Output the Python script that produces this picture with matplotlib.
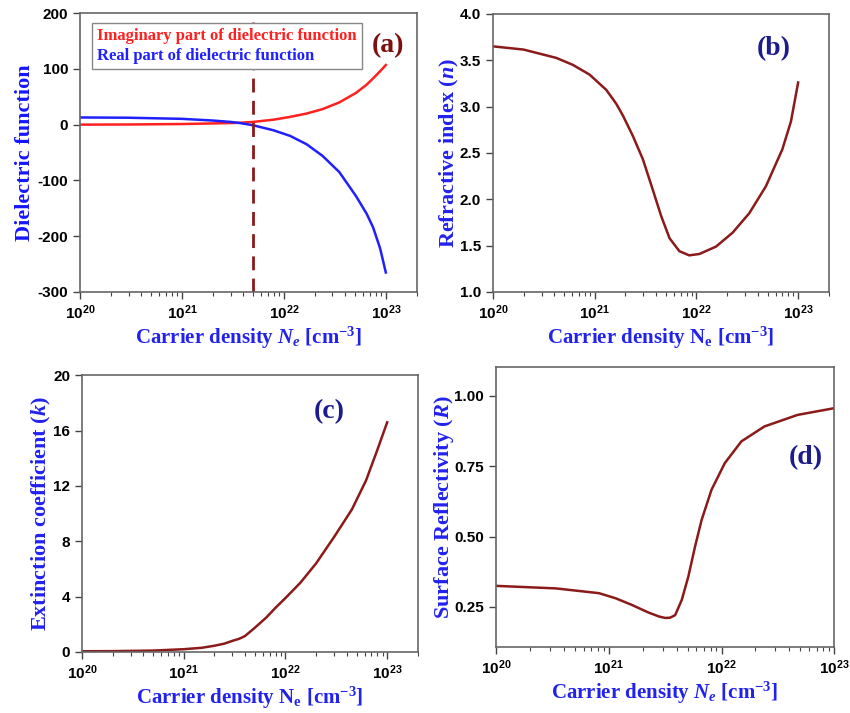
import math

import matplotlib
matplotlib.use("Agg")
import matplotlib.pyplot as plt
from matplotlib.ticker import FixedLocator, FuncFormatter, LogLocator, NullFormatter

plt.rcParams["mathtext.fontset"] = "custom"
plt.rcParams["mathtext.rm"] = "Liberation Serif:bold"
plt.rcParams["mathtext.it"] = "Liberation Serif:italic:bold"
plt.rcParams["mathtext.sf"] = "Liberation Sans:bold"

# (a) dielectric function
ne_a = [1e20, 3e20, 1e21, 2e21, 3e21, 3.7e21, 5e21, 7.9e21, 1.15e22, 1.67e22,
        2.4e22, 3.5e22, 5.1e22, 6.5e22, 7.5e22, 8.8e22, 1e23]
eps_imag = [0.1, 0.4, 1.2, 2.3, 3.0, 3.5, 5, 9, 14, 20,
            28, 40, 57, 72, 83, 96, 107]
eps_real = [13, 12.5, 10.5, 7.5, 5, 3, -1, -10, -20, -35,
            -56, -85, -128, -160, -184, -222, -265]
ne_cross = 5e21

# (b) refractive index
ne_b = [1e20, 2e20, 4.2e20, 6.1e20, 8.9e20, 1.3e21, 1.63e21, 1.9e21, 2.38e21, 2.98e21,
        3.73e21, 4.5e21, 5.44e21, 6.8e21, 8.5e21, 1.07e22, 1.56e22, 2.27e22,
        3.31e22, 4.82e22, 7.0e22, 8.5e22, 1e23]
n_vals = [3.65, 3.615, 3.525, 3.45, 3.345, 3.18, 3.03, 2.90, 2.68, 2.43,
          2.10, 1.82, 1.58, 1.44, 1.395, 1.41, 1.49, 1.64,
          1.85, 2.14, 2.54, 2.84, 3.26]

# (c) extinction coefficient
ne_c = [1e20, 2e20, 5e20, 1e21, 1.5e21, 2e21, 2.5e21, 3e21, 3.5e21, 4e21,
        5e21, 6.5e21, 8e21, 1e22, 1.4e22, 2e22, 3e22, 4.5e22, 6.2e22, 8e22, 1e23]
k_vals = [0.05, 0.06, 0.1, 0.2, 0.3, 0.45, 0.6, 0.8, 0.95, 1.15,
          1.75, 2.5, 3.2, 3.9, 5.0, 6.4, 8.3, 10.3, 12.4, 14.6, 16.6]

# (d) surface reflectivity
ne_d = [1e20, 3.4e20, 8.2e20, 1.15e21, 1.61e21, 2.26e21, 2.8e21, 3.17e21, 3.5e21,
        3.88e21, 4.44e21, 5.08e21, 5.82e21, 6.66e21, 8.15e21, 1.07e22, 1.5e22,
        2.4e22, 4.72e22, 1e23]
r_vals = [0.325, 0.316, 0.299, 0.281, 0.257, 0.23, 0.216, 0.211, 0.212,
          0.221, 0.275, 0.358, 0.464, 0.559, 0.666, 0.761, 0.838,
          0.891, 0.932, 0.956]

DARKRED = "#8b1a1a"
NAVY = "#1c1c8c"
LABEL_BLUE = "#2222ee"


def sup_fmt(x, pos):
    return r"$\mathsf{10^{%d}}$" % int(round(math.log10(x)))


def style(ax, xmax, yticks, ylim, yfmt):
    ax.set_xscale("log")
    ax.set_xlim(1e20, xmax)
    ax.set_ylim(*ylim)
    ax.xaxis.set_major_locator(FixedLocator([1e20, 1e21, 1e22, 1e23]))
    ax.xaxis.set_major_formatter(FuncFormatter(sup_fmt))
    ax.xaxis.set_minor_locator(LogLocator(base=10, subs=range(2, 10)))
    ax.xaxis.set_minor_formatter(NullFormatter())
    ax.set_yticks(yticks)
    ax.yaxis.set_major_formatter(FuncFormatter(lambda v, p: yfmt.format(v)))
    ax.tick_params(which="both", direction="out", top=False, right=False,
                   labelsize=11, color="#444444")
    ax.tick_params(which="major", length=5, width=1)
    ax.tick_params(which="minor", length=3, width=0.8)
    for lab in ax.get_yticklabels():
        lab.set_fontweight("bold")
        lab.set_family("Liberation Sans")
    for side in ax.spines:
        ax.spines[side].set_color("#666666")
        ax.spines[side].set_linewidth(1.2)


def labels(ax, ylab, xlab, ycolor=LABEL_BLUE, ypad=2):
    ax.set_ylabel(ylab, color=ycolor, family="Liberation Serif",
                  weight="bold", size=16, labelpad=ypad)
    ax.set_xlabel(xlab, color=LABEL_BLUE, family="Liberation Serif",
                  weight="bold", size=15, labelpad=2)


def tag(ax, s, x, y, color):
    ax.text(x, y, s, transform=ax.transAxes, color=color, family="Liberation Serif",
            weight="bold", size=20, ha="center", va="center")


fig = plt.figure(figsize=(8.5, 7.13), dpi=100)

# (a)
ax = fig.add_axes([0.094, 0.5905, 0.396, 0.391])
ax.plot(ne_a, eps_imag, color="#ff2020", lw=1.8, label="Imaginary part of dielectric function")
ax.plot(ne_a, eps_real, color="#2020ff", lw=1.8, label="Real part of dielectric function")
ax.vlines(ne_cross, -300, 185, colors=DARKRED, linestyles=(0, (5, 3)), lw=2)
style(ax, 2e23, [-300, -200, -100, 0, 100, 200], (-300, 200), "{:.0f}")
leg = ax.legend(loc="upper left", bbox_to_anchor=(0.036, 0.965), handlelength=0,
                handletextpad=0, fancybox=False, edgecolor="#888888",
                prop={"family": "Liberation Serif", "weight": "bold", "size": 12},
                borderpad=0.3, labelspacing=0.25, framealpha=1, borderaxespad=0)
for h in leg.legend_handles:
    h.set_visible(False)
for txt, c in zip(leg.get_texts(), ["#ff2020", "#2020ff"]):
    txt.set_color(c)
tag(ax, "(a)", 0.915, 0.885, "#7b1010")
labels(ax, "Dielectric function", r"Carrier density $N_e$ [cm$^{-3}$]", ycolor="#1515ff")

# (b)
ax = fig.add_axes([0.580, 0.5905, 0.395, 0.390])
ax.plot(ne_b, n_vals, color=DARKRED, lw=1.8)
style(ax, 2e23, [1.0, 1.5, 2.0, 2.5, 3.0, 3.5, 4.0], (1.0, 4.0), "{:.1f}")
tag(ax, "(b)", 0.835, 0.875, NAVY)
labels(ax, r"Refractive index ($n$)", r"Carrier density N$_\mathrm{e}$ [cm$^{-3}$]", ypad=-1)

# (c)
ax = fig.add_axes([0.0965, 0.0856, 0.395, 0.388])
ax.plot(ne_c, k_vals, color=DARKRED, lw=1.8)
style(ax, 2e23, [0, 4, 8, 12, 16, 20], (0, 20), "{:.0f}")
tag(ax, "(c)", 0.735, 0.87, NAVY)
labels(ax, r"Extinction coefficient ($k$)", r"Carrier density N$_\mathrm{e}$ [cm$^{-3}$]",
       ypad=0)

# (d)
ax = fig.add_axes([0.5835, 0.0926, 0.398, 0.393])
ax.plot(ne_d, r_vals, color=DARKRED, lw=1.8)
style(ax, 1e23, [0.25, 0.50, 0.75, 1.00], (0.108, 1.103), "{:.2f}")
tag(ax, "(d)", 0.915, 0.675, NAVY)
labels(ax, r"Surface Reflectivity ($R$)", r"Carrier density $N_e$ [cm$^{-3}$]", ypad=-1)

fig.savefig("out.png", dpi=100)
